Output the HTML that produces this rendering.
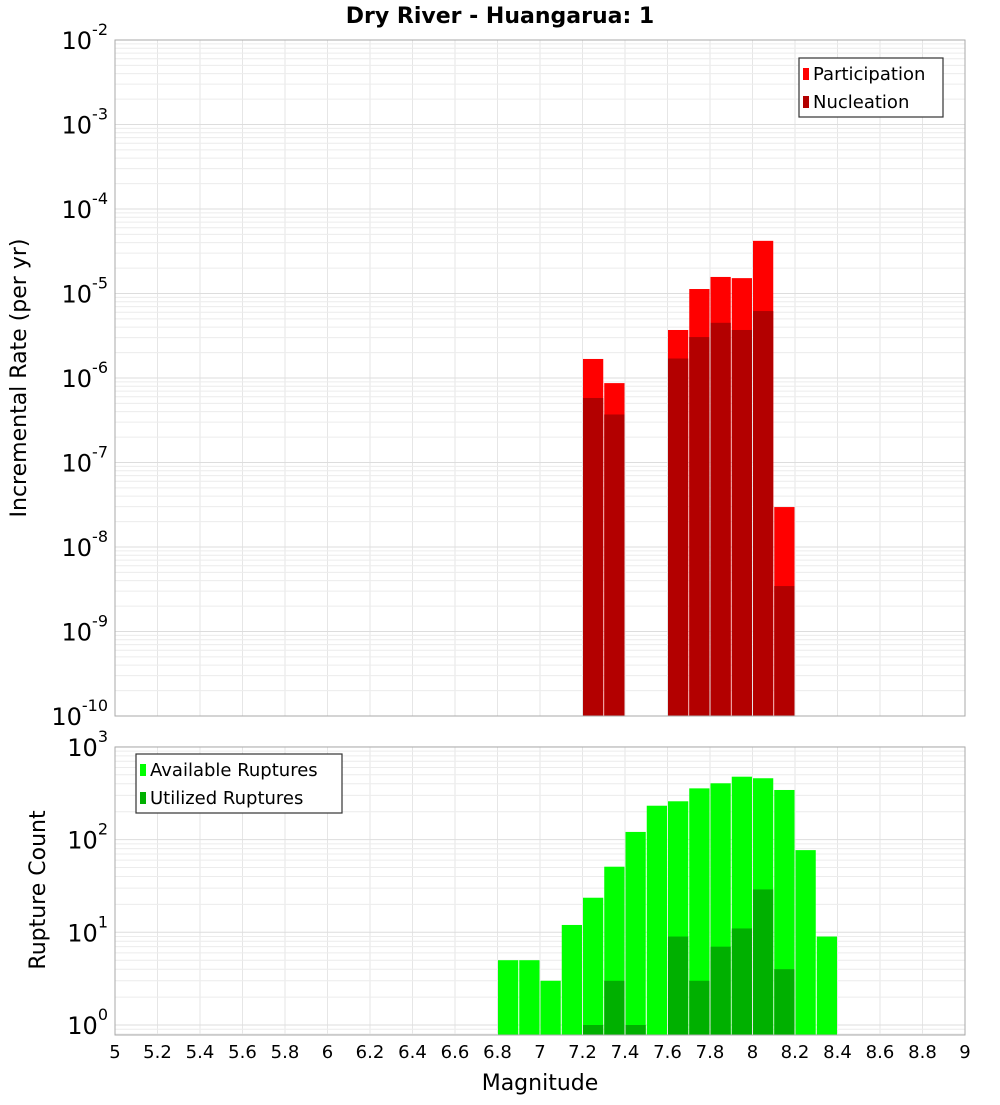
<!DOCTYPE html>
<html><head><meta charset="utf-8"><style>
body{margin:0;background:#fff;}
svg text{font-family:"DejaVu Sans","Liberation Sans",sans-serif;}
</style></head><body>
<svg id="chart" width="1000" height="1100" xmlns="http://www.w3.org/2000/svg"></svg>
<script>
const magBinsTop = [7.25,7.35,7.65,7.75,7.85,7.95,8.05,8.15];
const participation = [1.68e-6,8.7e-7,3.7e-6,1.13e-5,1.57e-5,1.52e-5,4.2e-5,2.97e-8];
const nucleation = [5.8e-7,3.7e-7,1.7e-6,3.05e-6,4.5e-6,3.7e-6,6.2e-6,3.45e-9];
const magBinsBot = [6.85,6.95,7.05,7.15,7.25,7.35,7.45,7.55,7.65,7.75,7.85,7.95,8.05,8.15,8.25,8.35];
const available = [5,5,3,12,23.6,51,121,232,259,357,405,477,459,343,77,9];
const utilized = [0,0,0,0,1,3,1,0,9,3,7,11,29,4,0,0];
const xTicks = [5,5.2,5.4,5.6,5.8,6,6.2,6.4,6.6,6.8,7,7.2,7.4,7.6,7.8,8,8.2,8.4,8.6,8.8,9];
const topExps = [-10,-9,-8,-7,-6,-5,-4,-3,-2];
const botExps = [0,1,2,3];

const svg = document.getElementById('chart');
const NS = 'http://www.w3.org/2000/svg';
function mk(tag, attrs, parent){const e=document.createElementNS(NS,tag);for(const k in attrs)e.setAttribute(k,attrs[k]);(parent||svg).appendChild(e);return e;}
const X0=115,X1=965;
const xs = m => X0 + (m-5)/4*(X1-X0);
const T0=40,T1=716, yTop = v => T1 - (Math.log10(v)+10)/8*(T1-T0);
const B0=747,B1=1035, yBot = v => 1025 - Math.log10(v)*92.7;
const bw = (X1-X0)/40;

// frames & grids
function grid(yTopF, yB, yMin, exps, yf, minLogLo){
  for(const t of xTicks){const l=mk('line',{x1:xs(t),x2:xs(t),y1:yTopF,y2:yB,stroke:'#e6e6e6','stroke-width':1});
    }
  for(let e=minLogLo;e<=exps[exps.length-1];e++){
    for(let k=1;k<10;k++){const v=k*Math.pow(10,e);const y=yf(v);if(y<yTopF-0.5||y>yB+0.5)continue;
      const l=mk('line',{x1:X0,x2:X1,y1:y,y2:y,stroke:k==1?'#dddddd':'#ececec','stroke-width':1});
      }}
}
grid(T0,T1,null,topExps,yTop,-10);
grid(B0,B1,null,botExps,yBot,-1);

// top bars
magBinsTop.forEach((m,i)=>{
  const x=xs(m)-bw/2+0.5;
  const r=mk('rect',{x:x,y:yTop(participation[i]),width:bw-1,height:T1-yTop(participation[i]),fill:'#ff0000'});
  
  const n=mk('rect',{x:x,y:yTop(nucleation[i]),width:bw-1,height:T1-yTop(nucleation[i]),fill:'#b30000'});
  
});
magBinsBot.forEach((m,i)=>{
  const x=xs(m)-bw/2+0.5;
  const r=mk('rect',{x:x,y:yBot(available[i]),width:bw-1,height:B1-yBot(available[i]),fill:'#00ff00'});
  
  if(utilized[i]>0){const n=mk('rect',{x:x,y:yBot(utilized[i]),width:bw-1,height:B1-yBot(utilized[i]),fill:'#00b000'});
  }
});
const f1=mk('rect',{x:X0,y:T0,width:X1-X0,height:T1-T0,fill:'none',stroke:'#aaaaaa'});

const f2=mk('rect',{x:X0,y:B0,width:X1-X0,height:B1-B0,fill:'none',stroke:'#aaaaaa'});


function powLabel(y,e,name){
  const t=mk('text',{x:108,y:y+9,'text-anchor':'end','font-size':24,fill:'#000'});
  
  const a=document.createElementNS(NS,'tspan');a.textContent='10';t.appendChild(a);
  const b=document.createElementNS(NS,'tspan');b.setAttribute('dy','-14');b.setAttribute('font-size','16');b.textContent=String(e);t.appendChild(b);
}
topExps.forEach(e=>powLabel(yTop(Math.pow(10,e)),e,'top-y-tick-label'));
botExps.forEach(e=>powLabel(yBot(Math.pow(10,e)),e,'bottom-y-tick-label'));
xTicks.forEach(t=>{const l=mk('text',{x:xs(t),y:1058,'text-anchor':'middle','font-size':18,fill:'#000'});
  l.textContent=String(t);});

function txt(s,attrs,name){const t=mk('text',attrs);t.textContent=s;return t;}
txt('Dry River - Huangarua: 1',{x:500,y:23,'text-anchor':'middle','font-size':22,'font-weight':'bold'},'chart-title');
txt('Magnitude',{x:540,y:1090,'text-anchor':'middle','font-size':22},'x-axis-title');
txt('Incremental Rate (per yr)',{x:26,y:378,'text-anchor':'middle','font-size':22,transform:'rotate(-90 26 378)'},'top-y-axis-title');
txt('Rupture Count',{x:45,y:890,'text-anchor':'middle','font-size':22,transform:'rotate(-90 45 890)'},'bottom-y-axis-title');

function legend(x,y,w,items,name){
  const g=mk('g',{});
  mk('rect',{x:x,y:y,width:w,height:59,fill:'#fff',stroke:'#333','stroke-width':1.2},g);
  items.forEach((it,i)=>{
    const r=mk('rect',{x:x+4,y:y+10+i*28,width:6,height:12,fill:it[1]},g);
    
    const t=mk('text',{x:x+14,y:y+22+i*28,'font-size':18},g);t.textContent=it[0];
    
  });
}
legend(799,58,144,[['Participation','#ff0000'],['Nucleation','#b30000']],'top-legend');
legend(136,754,206,[['Available Ruptures','#00ff00'],['Utilized Ruptures','#00b000']],'bottom-legend');
</script>
</body></html>
